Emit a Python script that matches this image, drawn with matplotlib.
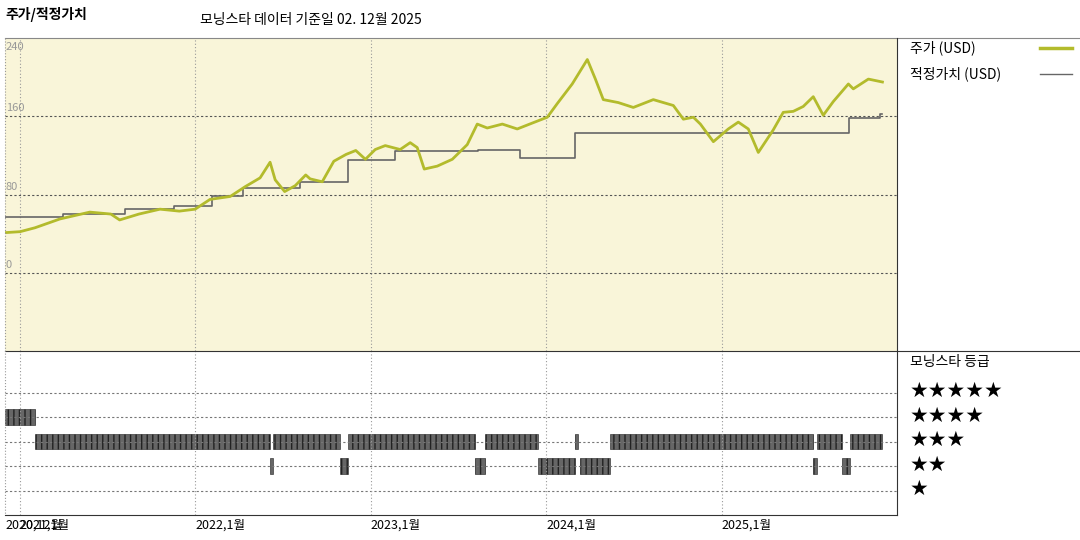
import numpy as np
from matplotlib import pyplot as plt

plt.rcParams['font.family'] = ['Noto Sans CJK KR', 'DejaVu Sans']

# price (USD), time in fractional years
price_t = [2020.917, 2021.003, 2021.088, 2021.23, 2021.40, 2021.52, 2021.57, 2021.68, 2021.80,
           2021.91, 2022.0, 2022.085, 2022.20, 2022.285, 2022.37, 2022.427, 2022.456, 2022.51,
           2022.57, 2022.63, 2022.655, 2022.724, 2022.79, 2022.86, 2022.915, 2022.97, 2023.026,
           2023.083, 2023.168, 2023.225, 2023.265, 2023.305, 2023.379, 2023.465, 2023.55, 2023.607,
           2023.664, 2023.75, 2023.835, 2023.92, 2024.006, 2024.063, 2024.148, 2024.234, 2024.28,
           2024.325, 2024.41, 2024.496, 2024.61, 2024.724, 2024.781, 2024.838, 2024.878, 2024.952,
           2025.037, 2025.094, 2025.151, 2025.208, 2025.293, 2025.35, 2025.407, 2025.464, 2025.521,
           2025.578, 2025.635, 2025.721, 2025.749, 2025.835, 2025.915]
price_v = [41, 42, 46, 55, 62, 60, 54, 60, 65, 63, 65, 75, 78, 88, 97, 113, 95, 83, 89, 100, 96,
           93, 114, 121, 125, 116, 126, 130, 126, 133, 128, 106, 109, 116, 131, 152, 148, 152,
           147, 153, 159, 173, 193, 218, 198, 177, 174, 169, 177, 171, 157, 159, 152, 134, 147,
           154, 147, 123, 146, 164, 165, 170, 180, 161, 175, 193, 188, 198, 195]

# fair value steps: change dates and values
fv_t = [2020.917, 2021.25, 2021.60, 2021.88, 2022.096, 2022.273, 2022.60, 2022.87,
        2023.14, 2023.61, 2023.85, 2024.165, 2025.727, 2025.90, 2025.915]
fv_v = [57, 60, 65, 68, 78, 87, 93, 115, 124, 126, 117, 143, 158, 162, 162]

# morningstar rating periods (start, end, stars)
rating = [(2020.917, 2021.088, 4),
          (2021.088, 2022.427, 3), (2022.427, 2022.444, 2), (2022.444, 2022.826, 3),
          (2022.826, 2022.872, 2), (2022.872, 2023.595, 3), (2023.595, 2023.652, 2),
          (2023.652, 2023.954, 3), (2023.954, 2024.165, 2), (2024.165, 2024.183, 3),
          (2024.194, 2024.365, 2), (2024.365, 2025.521, 3), (2025.521, 2025.544, 2),
          (2025.544, 2025.687, 3), (2025.687, 2025.732, 2), (2025.732, 2025.915, 3)]

tick_t = [2020.917, 2021.0, 2022.0, 2023.0, 2024.0, 2025.0]
tick_lbl = ['2020,12월', '2021,1월', '2022,1월', '2023,1월', '2024,1월', '2025,1월']

W, H = 1080, 540
fig = plt.figure(figsize=(10.8, 5.4), dpi=100)
x0, x1 = 2020.917, 2025.998

def box(l, t, r, b):
    return [l / W, 1 - b / H, (r - l) / W, (b - t) / H]

ax = fig.add_axes(box(5, 38, 897, 351))
ax.set_facecolor('#f9f5d9')
ax.set_xlim(x0, x1)
ax.set_ylim(-80, 240)
for v in [0, 80, 160]:
    ax.axhline(v, color='#555555', ls=(0, (2, 2)), lw=0.8)
    ax.text(x0 + 0.005, v + 3, str(v), color='#999999', fontsize=8, va='bottom')
ax.text(x0 + 0.005, 236, '240', color='#999999', fontsize=8, va='top')
for t in tick_t[1:]:
    ax.axvline(t, color='#999999', ls=(0, (1, 2)), lw=0.8)
ax.step(fv_t, fv_v, where='post', color='#666666', lw=1.2)
ax.plot(price_t, price_v, color='#b3bb2c', lw=2)
ax.set_xticks([]); ax.set_yticks([])
for s in ax.spines.values():
    s.set_visible(False)

ax2 = fig.add_axes(box(5, 351, 897, 515))
ax2.set_xlim(x0, x1)
ax2.set_ylim(0.0, 164 / 24.5)
for r in range(1, 6):
    ax2.axhline(r, color='#777777', ls=(0, (2, 2)), lw=0.8)
for t in tick_t[1:]:
    ax2.axvline(t, color='#999999', ls=(0, (1, 2)), lw=0.8)
for a, b, s in rating:
    ax2.broken_barh([(a, b - a)], (s - 0.32, 0.64), facecolor='#666666',
                    edgecolor='#222222', hatch='|||', lw=0.4)
ax2.set_xticks([]); ax2.set_yticks([])
for s in ax2.spines.values():
    s.set_visible(False)
ax2.spines['bottom'].set_visible(True)
ax2.spines['bottom'].set_color('#333333')

for t, lbl in zip(tick_t, tick_lbl):
    ax2.text(t, -0.15, lbl, fontsize=9, va='top', ha='left', transform=ax2.transData)

# frame lines
fig.add_artist(plt.Line2D([5 / W, 1], [1 - 38 / H] * 2, color='#888888', lw=0.8))
fig.add_artist(plt.Line2D([5 / W, 1], [1 - 351 / H] * 2, color='#333333', lw=0.8))
fig.add_artist(plt.Line2D([897 / W] * 2, [1 - 38 / H, 1 - 515 / H], color='#333333', lw=0.8))
fig.add_artist(plt.Line2D([5 / W] * 2, [1 - 38 / H, 1 - 515 / H], color='#999999', lw=0.8, ls=':'))

fig.text(5 / W, 1 - 15 / H, '주가/적정가치', fontsize=10, fontweight='bold', va='center')
fig.text(200 / W, 1 - 20 / H, '모닝스타 데이터 기준일 02. 12월 2025', fontsize=10, va='center')
fig.text(910 / W, 1 - 48 / H, '주가 (USD)', fontsize=10, va='center')
fig.add_artist(plt.Line2D([1040 / W, 1072 / W], [1 - 48 / H] * 2, color='#b3bb2c', lw=2.5))
fig.text(910 / W, 1 - 74 / H, '적정가치 (USD)', fontsize=10, va='center')
fig.add_artist(plt.Line2D([1040 / W, 1072 / W], [1 - 74 / H] * 2, color='#666666', lw=1))
fig.text(910 / W, 1 - 362 / H, '모닝스타 등급', fontsize=10, va='center')
for i, n in enumerate([5, 4, 3, 2, 1]):
    fig.text(910 / W, 1 - (391 + i * 24.5) / H, '★' * n, fontsize=15, va='center',
             family='DejaVu Sans')

fig.savefig('out.png', dpi=100)
